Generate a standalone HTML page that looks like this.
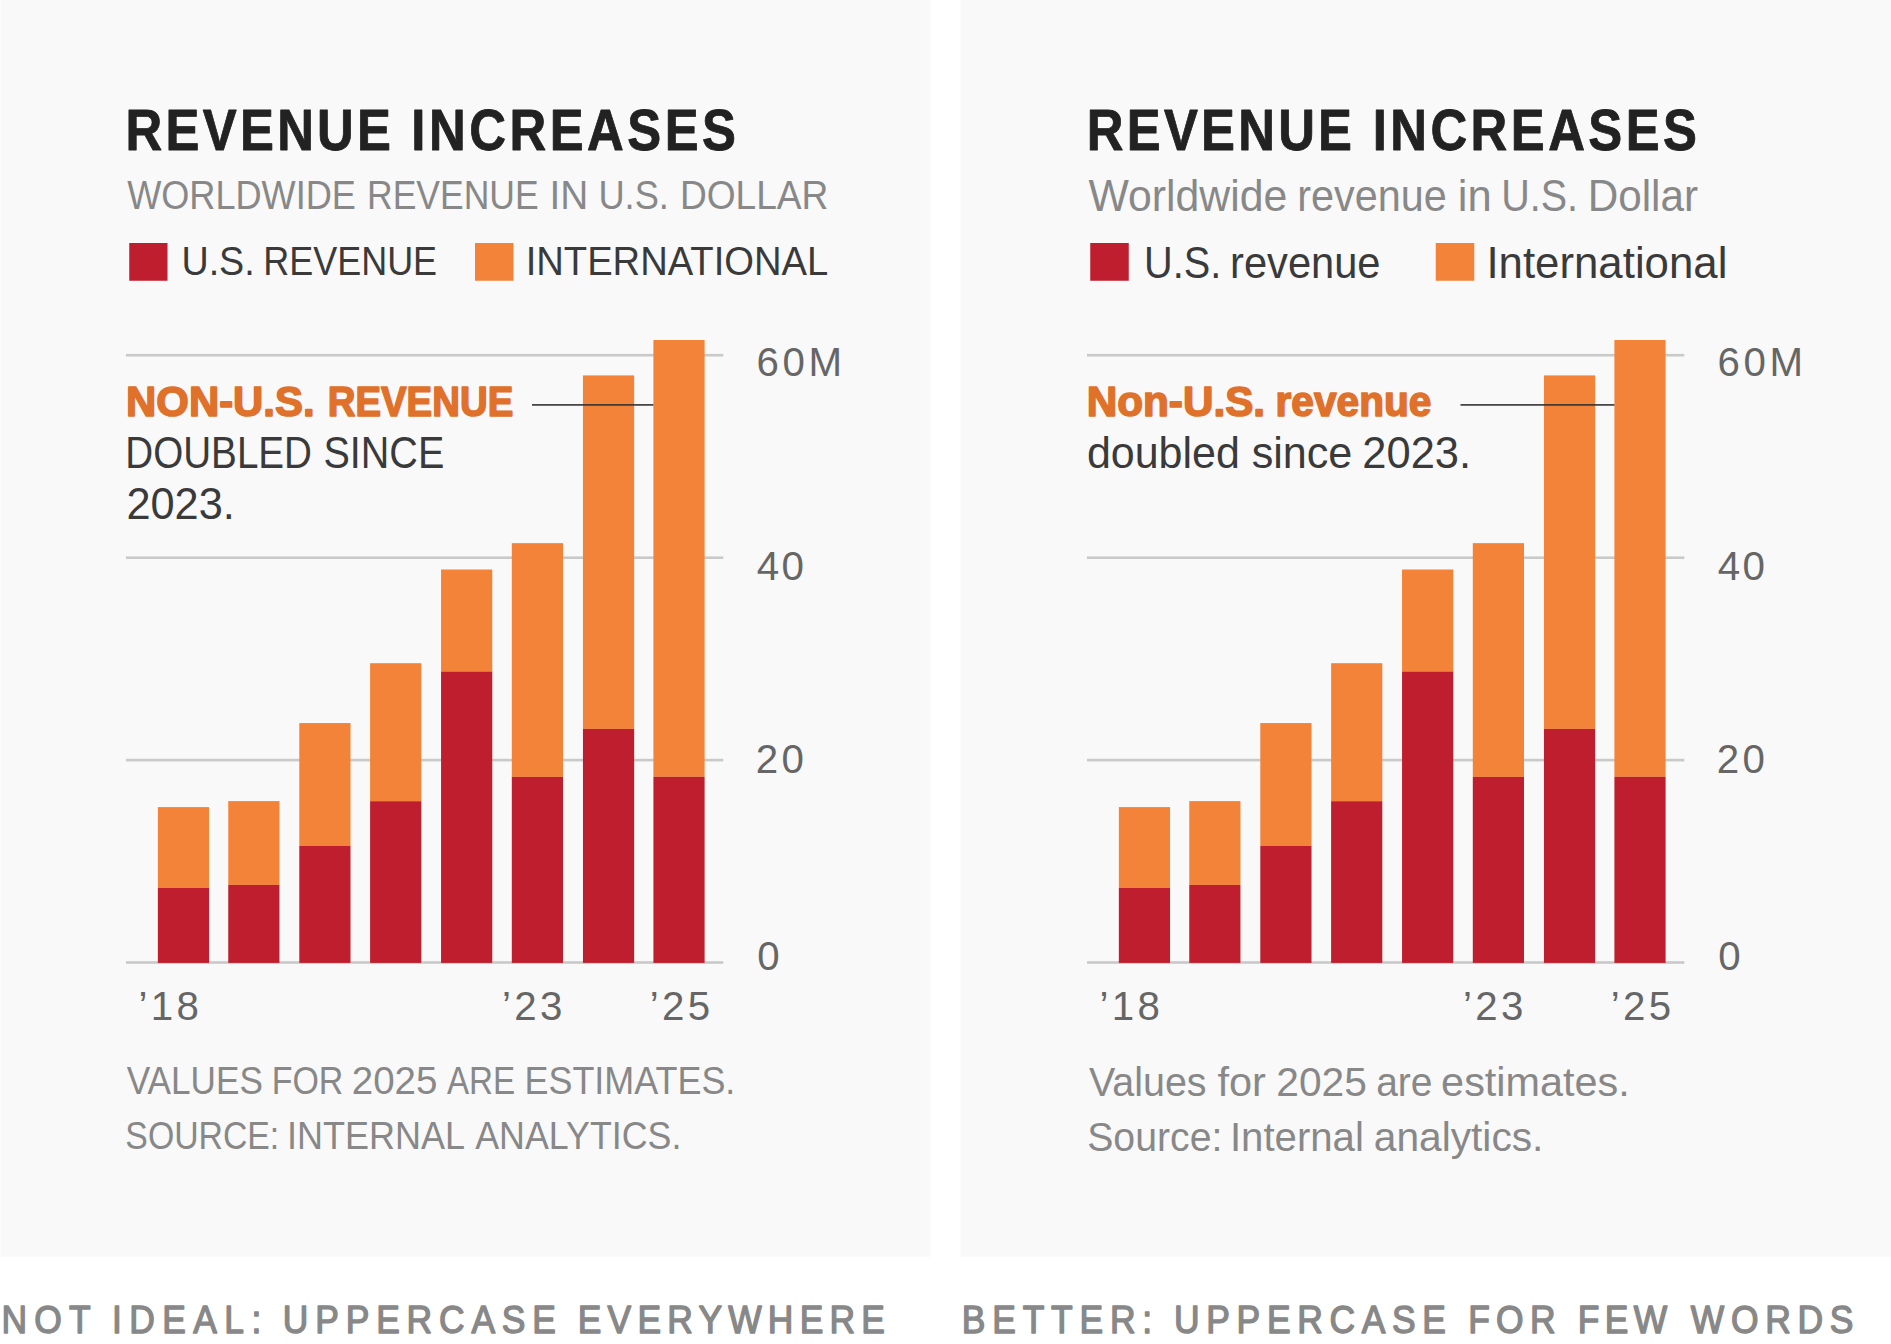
<!DOCTYPE html>
<html lang="en"><head><meta charset="utf-8"><title>Revenue increases</title>
<style>
html,body{margin:0;padding:0;background:#fff;}
body{width:1891px;height:1344px;overflow:hidden;}
svg{display:block;font-family:"Liberation Sans",Arial,sans-serif;}
text{white-space:pre;}
</style></head><body>
<svg width="1891" height="1344" viewBox="0 0 1891 1344">
<rect x="0.50" y="0.00" width="930.00" height="1256.75" fill="#F9F9F9"/>
<rect x="126.00" y="353.90" width="597.30" height="2.60" fill="#C9C9C9"/>
<rect x="126.00" y="556.40" width="597.30" height="2.60" fill="#C9C9C9"/>
<rect x="126.00" y="758.80" width="597.30" height="2.60" fill="#C9C9C9"/>
<rect x="126.00" y="961.20" width="597.30" height="2.60" fill="#C9C9C9"/>
<rect x="157.85" y="807.10" width="51.20" height="80.80" fill="#F28339"/>
<rect x="157.85" y="887.90" width="51.20" height="75.00" fill="#BE1E2D"/>
<rect x="228.25" y="801.10" width="51.20" height="83.80" fill="#F28339"/>
<rect x="228.25" y="884.90" width="51.20" height="78.00" fill="#BE1E2D"/>
<rect x="299.30" y="723.05" width="51.20" height="122.95" fill="#F28339"/>
<rect x="299.30" y="846.00" width="51.20" height="116.90" fill="#BE1E2D"/>
<rect x="370.10" y="663.20" width="51.20" height="138.00" fill="#F28339"/>
<rect x="370.10" y="801.20" width="51.20" height="161.70" fill="#BE1E2D"/>
<rect x="441.05" y="569.50" width="51.20" height="102.00" fill="#F28339"/>
<rect x="441.05" y="671.50" width="51.20" height="291.40" fill="#BE1E2D"/>
<rect x="511.80" y="543.15" width="51.20" height="233.75" fill="#F28339"/>
<rect x="511.80" y="776.90" width="51.20" height="186.00" fill="#BE1E2D"/>
<rect x="582.95" y="375.40" width="51.20" height="353.50" fill="#F28339"/>
<rect x="582.95" y="728.90" width="51.20" height="234.00" fill="#BE1E2D"/>
<rect x="653.40" y="340.00" width="51.20" height="436.80" fill="#F28339"/>
<rect x="653.40" y="776.80" width="51.20" height="186.10" fill="#BE1E2D"/>
<rect x="960.50" y="0.00" width="930.50" height="1256.75" fill="#F9F9F9"/>
<rect x="1087.00" y="353.90" width="597.30" height="2.60" fill="#C9C9C9"/>
<rect x="1087.00" y="556.40" width="597.30" height="2.60" fill="#C9C9C9"/>
<rect x="1087.00" y="758.80" width="597.30" height="2.60" fill="#C9C9C9"/>
<rect x="1087.00" y="961.20" width="597.30" height="2.60" fill="#C9C9C9"/>
<rect x="1118.85" y="807.10" width="51.20" height="80.80" fill="#F28339"/>
<rect x="1118.85" y="887.90" width="51.20" height="75.00" fill="#BE1E2D"/>
<rect x="1189.25" y="801.10" width="51.20" height="83.80" fill="#F28339"/>
<rect x="1189.25" y="884.90" width="51.20" height="78.00" fill="#BE1E2D"/>
<rect x="1260.30" y="723.05" width="51.20" height="122.95" fill="#F28339"/>
<rect x="1260.30" y="846.00" width="51.20" height="116.90" fill="#BE1E2D"/>
<rect x="1331.10" y="663.20" width="51.20" height="138.00" fill="#F28339"/>
<rect x="1331.10" y="801.20" width="51.20" height="161.70" fill="#BE1E2D"/>
<rect x="1402.05" y="569.50" width="51.20" height="102.00" fill="#F28339"/>
<rect x="1402.05" y="671.50" width="51.20" height="291.40" fill="#BE1E2D"/>
<rect x="1472.80" y="543.15" width="51.20" height="233.75" fill="#F28339"/>
<rect x="1472.80" y="776.90" width="51.20" height="186.00" fill="#BE1E2D"/>
<rect x="1543.95" y="375.40" width="51.20" height="353.50" fill="#F28339"/>
<rect x="1543.95" y="728.90" width="51.20" height="234.00" fill="#BE1E2D"/>
<rect x="1614.40" y="340.00" width="51.20" height="436.80" fill="#F28339"/>
<rect x="1614.40" y="776.80" width="51.20" height="186.10" fill="#BE1E2D"/>
<rect x="129.25" y="243.00" width="38.25" height="37.75" fill="#BE1E2D"/>
<rect x="475.00" y="243.00" width="38.50" height="37.75" fill="#F28339"/>
<rect x="1090.25" y="243.00" width="38.50" height="37.75" fill="#BE1E2D"/>
<rect x="1435.75" y="243.00" width="38.50" height="37.75" fill="#F28339"/>
<rect x="532.00" y="404.10" width="121.40" height="1.60" fill="#333333"/>
<rect x="1460.50" y="404.10" width="153.90" height="1.60" fill="#333333"/>
<text id="Lt" transform="scale(0.88 1)" y="150.00" font-size="57.78" font-weight="bold" fill="#222222" stroke="#222222" stroke-width="0.8" stroke-linejoin="round"><tspan id="Lt_0" x="142.68" textLength="301.67" lengthAdjust="spacing">REVENUE</tspan> <tspan id="Lt_1" x="467.46" textLength="368.95" lengthAdjust="spacing">INCREASES</tspan></text>
<text id="Ls" y="209.30" font-size="41.13" fill="#888888"><tspan id="Ls_0" x="127.14" textLength="228.81" lengthAdjust="spacingAndGlyphs">WORLDWIDE</tspan> <tspan id="Ls_1" x="367.04" textLength="171.57" lengthAdjust="spacingAndGlyphs">REVENUE</tspan> <tspan id="Ls_2" x="549.40" textLength="38.81" lengthAdjust="spacingAndGlyphs">IN</tspan> <tspan id="Ls_3" x="598.41" textLength="70.52" lengthAdjust="spacingAndGlyphs">U.S.</tspan> <tspan id="Ls_4" x="679.88" textLength="148.44" lengthAdjust="spacingAndGlyphs">DOLLAR</tspan></text>
<text id="Ll1" y="275.00" font-size="40.70" fill="#3A3A3A"><tspan id="Ll1_0" x="181.44" textLength="73.27" lengthAdjust="spacingAndGlyphs">U.S.</tspan> <tspan id="Ll1_1" x="263.31" textLength="173.80" lengthAdjust="spacingAndGlyphs">REVENUE</tspan></text>
<text id="Ll2" y="275.00" font-size="40.70" fill="#3A3A3A"><tspan id="Ll2_0" x="525.66" textLength="302.56" lengthAdjust="spacingAndGlyphs">INTERNATIONAL</tspan></text>
<text id="La1" y="415.95" font-size="42.01" font-weight="bold" fill="#E0712B" stroke="#E0712B" stroke-width="1.6" stroke-linejoin="round"><tspan id="La1_0" x="126.08" textLength="188.48" lengthAdjust="spacingAndGlyphs">NON-U.S.</tspan> <tspan id="La1_1" x="327.69" textLength="185.57" lengthAdjust="spacingAndGlyphs">REVENUE</tspan></text>
<text id="La2" y="467.50" font-size="43.60" fill="#3A3A3A"><tspan id="La2_0" x="125.32" textLength="186.69" lengthAdjust="spacingAndGlyphs">DOUBLED</tspan> <tspan id="La2_1" x="323.42" textLength="120.87" lengthAdjust="spacingAndGlyphs">SINCE</tspan></text>
<text id="La3" y="519.25" font-size="43.60" fill="#3A3A3A"><tspan id="La3_0" x="126.42" textLength="108.41" lengthAdjust="spacingAndGlyphs">2023.</tspan></text>
<text id="Rt" transform="scale(0.88 1)" y="150.00" font-size="57.78" font-weight="bold" fill="#222222" stroke="#222222" stroke-width="0.8" stroke-linejoin="round"><tspan id="Rt_0" x="1235.07" textLength="301.33" lengthAdjust="spacing">REVENUE</tspan> <tspan id="Rt_1" x="1559.83" textLength="368.62" lengthAdjust="spacing">INCREASES</tspan></text>
<text id="Rs" y="210.75" font-size="44.69" fill="#888888"><tspan id="Rs_0" x="1088.41" textLength="198.95" lengthAdjust="spacingAndGlyphs">Worldwide</tspan> <tspan id="Rs_1" x="1297.35" textLength="149.47" lengthAdjust="spacingAndGlyphs">revenue</tspan> <tspan id="Rs_2" x="1457.69" textLength="33.98" lengthAdjust="spacingAndGlyphs">in</tspan> <tspan id="Rs_3" x="1501.20" textLength="76.85" lengthAdjust="spacingAndGlyphs">U.S.</tspan> <tspan id="Rs_4" x="1587.66" textLength="110.30" lengthAdjust="spacingAndGlyphs">Dollar</tspan></text>
<text id="Rl1" y="277.50" font-size="44.33" fill="#3A3A3A"><tspan id="Rl1_0" x="1144.04" textLength="77.18" lengthAdjust="spacingAndGlyphs">U.S.</tspan> <tspan id="Rl1_1" x="1230.10" textLength="150.44" lengthAdjust="spacingAndGlyphs">revenue</tspan></text>
<text id="Rl2" y="277.50" font-size="44.33" fill="#3A3A3A"><tspan id="Rl2_0" x="1486.42" textLength="240.98" lengthAdjust="spacingAndGlyphs">International</tspan></text>
<text id="Ra1" y="415.95" font-size="42.01" font-weight="bold" fill="#E0712B" stroke="#E0712B" stroke-width="1.6" stroke-linejoin="round"><tspan id="Ra1_0" x="1086.78" textLength="178.29" lengthAdjust="spacingAndGlyphs">Non-U.S.</tspan> <tspan id="Ra1_1" x="1275.53" textLength="155.90" lengthAdjust="spacingAndGlyphs">revenue</tspan></text>
<text id="Ra2" y="467.50" font-size="43.46" fill="#3A3A3A"><tspan id="Ra2_0" x="1086.90" textLength="152.95" lengthAdjust="spacingAndGlyphs">doubled</tspan> <tspan id="Ra2_1" x="1251.63" textLength="100.73" lengthAdjust="spacingAndGlyphs">since</tspan> <tspan id="Ra2_2" x="1362.30" textLength="108.75" lengthAdjust="spacingAndGlyphs">2023.</tspan></text>
<text id="Ly60" y="375.90" font-size="40.26" fill="#666666"><tspan id="Ly60_0" x="756.59" textLength="85.44" lengthAdjust="spacing">60M</tspan></text>
<text id="Ly40" y="579.85" font-size="40.33" fill="#666666"><tspan id="Ly40_0" x="756.66" textLength="47.26" lengthAdjust="spacing">40</tspan></text>
<text id="Ly20" y="773.10" font-size="40.26" fill="#666666"><tspan id="Ly20_0" x="755.81" textLength="48.12" lengthAdjust="spacing">20</tspan></text>
<text id="Ly0" y="969.80" font-size="40.26" fill="#666666"><tspan id="Ly0_0" x="757.15">0</tspan></text>
<text id="Lx18" y="1019.85" font-size="40.26" fill="#666666"><tspan id="Lx18_0" x="138.51" textLength="60.49" lengthAdjust="spacing">’18</tspan></text>
<text id="Lx23" y="1019.85" font-size="40.26" fill="#666666"><tspan id="Lx23_0" x="502.02" textLength="60.34" lengthAdjust="spacing">’23</tspan></text>
<text id="Lx25" y="1019.85" font-size="40.26" fill="#666666"><tspan id="Lx25_0" x="649.78" textLength="60.33" lengthAdjust="spacing">’25</tspan></text>
<text id="Ry60" y="375.90" font-size="40.26" fill="#666666"><tspan id="Ry60_0" x="1717.59" textLength="85.44" lengthAdjust="spacing">60M</tspan></text>
<text id="Ry40" y="579.85" font-size="40.33" fill="#666666"><tspan id="Ry40_0" x="1717.66" textLength="47.26" lengthAdjust="spacing">40</tspan></text>
<text id="Ry20" y="773.10" font-size="40.26" fill="#666666"><tspan id="Ry20_0" x="1716.81" textLength="48.12" lengthAdjust="spacing">20</tspan></text>
<text id="Ry0" y="969.80" font-size="40.26" fill="#666666"><tspan id="Ry0_0" x="1718.15">0</tspan></text>
<text id="Rx18" y="1019.85" font-size="40.26" fill="#666666"><tspan id="Rx18_0" x="1099.51" textLength="60.49" lengthAdjust="spacing">’18</tspan></text>
<text id="Rx23" y="1019.85" font-size="40.26" fill="#666666"><tspan id="Rx23_0" x="1463.02" textLength="60.34" lengthAdjust="spacing">’23</tspan></text>
<text id="Rx25" y="1019.85" font-size="40.26" fill="#666666"><tspan id="Rx25_0" x="1610.78" textLength="60.33" lengthAdjust="spacing">’25</tspan></text>
<text id="Lf1" y="1094.25" font-size="38.88" fill="#888888"><tspan id="Lf1_0" x="126.78" textLength="136.06" lengthAdjust="spacingAndGlyphs">VALUES</tspan> <tspan id="Lf1_1" x="271.69" textLength="71.68" lengthAdjust="spacingAndGlyphs">FOR</tspan> <tspan id="Lf1_2" x="351.75" textLength="85.62" lengthAdjust="spacingAndGlyphs">2025</tspan> <tspan id="Lf1_3" x="446.89" textLength="68.23" lengthAdjust="spacingAndGlyphs">ARE</tspan> <tspan id="Lf1_4" x="524.55" textLength="210.78" lengthAdjust="spacingAndGlyphs">ESTIMATES.</tspan></text>
<text id="Lf2" y="1149.25" font-size="38.88" fill="#888888"><tspan id="Lf2_0" x="125.37" textLength="153.87" lengthAdjust="spacingAndGlyphs">SOURCE:</tspan> <tspan id="Lf2_1" x="287.10" textLength="176.66" lengthAdjust="spacingAndGlyphs">INTERNAL</tspan> <tspan id="Lf2_2" x="475.21" textLength="206.13" lengthAdjust="spacingAndGlyphs">ANALYTICS.</tspan></text>
<text id="Rf1" y="1096.25" font-size="41.06" fill="#888888"><tspan id="Rf1_0" x="1088.88" textLength="117.71" lengthAdjust="spacingAndGlyphs">Values</tspan> <tspan id="Rf1_1" x="1217.43" textLength="48.42" lengthAdjust="spacingAndGlyphs">for</tspan> <tspan id="Rf1_2" x="1276.31" textLength="90.58" lengthAdjust="spacingAndGlyphs">2025</tspan> <tspan id="Rf1_3" x="1376.16" textLength="56.29" lengthAdjust="spacingAndGlyphs">are</tspan> <tspan id="Rf1_4" x="1441.14" textLength="188.51" lengthAdjust="spacingAndGlyphs">estimates.</tspan></text>
<text id="Rf2" y="1151.25" font-size="41.06" fill="#888888"><tspan id="Rf2_0" x="1087.20" textLength="135.15" lengthAdjust="spacingAndGlyphs">Source:</tspan> <tspan id="Rf2_1" x="1229.89" textLength="134.02" lengthAdjust="spacingAndGlyphs">Internal</tspan> <tspan id="Rf2_2" x="1373.75" textLength="169.65" lengthAdjust="spacingAndGlyphs">analytics.</tspan></text>
<text id="Lc" transform="scale(0.93 1)" y="1332.90" font-size="38.08" fill="#888888" stroke="#888888" stroke-width="1.4" stroke-linejoin="round"><tspan id="Lc_0" x="1.68" textLength="95.71" lengthAdjust="spacing">NOT</tspan> <tspan id="Lc_1" x="120.33" textLength="160.56" lengthAdjust="spacing">IDEAL:</tspan> <tspan id="Lc_2" x="304.12" textLength="293.65" lengthAdjust="spacing">UPPERCASE</tspan> <tspan id="Lc_3" x="621.27" textLength="330.26" lengthAdjust="spacing">EVERYWHERE</tspan></text>
<text id="Rc" transform="scale(0.93 1)" y="1332.90" font-size="38.08" fill="#888888" stroke="#888888" stroke-width="1.4" stroke-linejoin="round"><tspan id="Rc_0" x="1034.18" textLength="204.77" lengthAdjust="spacing">BETTER:</tspan> <tspan id="Rc_1" x="1262.42" textLength="292.38" lengthAdjust="spacing">UPPERCASE</tspan> <tspan id="Rc_2" x="1578.66" textLength="93.92" lengthAdjust="spacing">FOR</tspan> <tspan id="Rc_3" x="1696.54" textLength="96.10" lengthAdjust="spacing">FEW</tspan> <tspan id="Rc_4" x="1818.06" textLength="174.74" lengthAdjust="spacing">WORDS</tspan></text>
</svg>
</body></html>
